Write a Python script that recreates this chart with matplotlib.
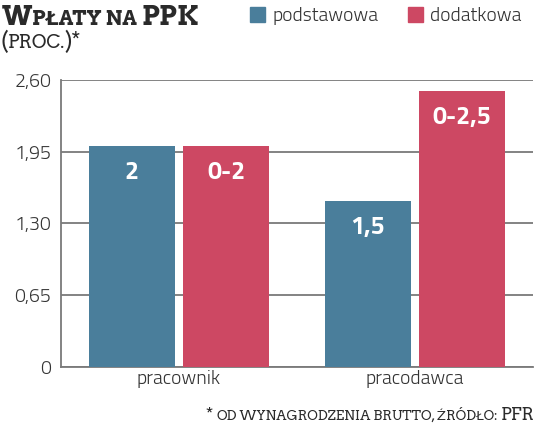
import matplotlib
matplotlib.use("Agg")
import matplotlib.pyplot as plt
from matplotlib import font_manager as fm
import numpy as np

categories = ["pracownik", "pracodawca"]
series_names = ["podstawowa", "dodatkowa"]
podstawowa = [2.0, 1.5]
dodatkowa = [2.0, 2.5]
labels_pod = ["2", "1,5"]
labels_dod = ["0-2", "0-2,5"]
yticks = [0, 0.65, 1.30, 1.95, 2.60]
yticklabels = ["0", "0,65", "1,30", "1,95", "2,60"]

BLUE = "#4a7e9b"
RED = "#cd4863"
GRID = "#7a7a7a"

names = {f.name for f in fm.fontManager.ttflist}
def pick(cands, default):
    for c in cands:
        if c in names:
            return [c, "DejaVu Sans"]
    return [default, "DejaVu Sans"]

sans = pick(["Titillium Web", "Exo 2", "Saira Semi Condensed", "Roboto Condensed"], "DejaVu Sans")
slab = pick(["Arvo", "Bitter", "Roboto Slab", "Zilla Slab"], "DejaVu Serif")

fig = plt.figure(figsize=(5.36, 4.28), dpi=100)
ax = fig.add_axes([61/536, 1-367/428, 472/536, 287/428])

x = np.arange(len(categories))
w = 0.364
off = 0.2
b1 = ax.bar(x - off, podstawowa, w, color=BLUE, zorder=3)
b2 = ax.bar(x + off, dodatkowa, w, color=RED, zorder=3)

ax.set_xlim(-0.5, 1.5)
ax.set_ylim(0, 2.6)
ax.set_yticks(yticks)
ax.set_yticklabels(yticklabels)
ax.set_xticks(x)
ax.set_xticklabels(categories)
ax.yaxis.grid(True, color=GRID, linewidth=1.3, zorder=0)
ax.set_axisbelow(True)
for s in ["top", "right"]:
    ax.spines[s].set_visible(False)
for s in ["left", "bottom"]:
    ax.spines[s].set_color(GRID)
    ax.spines[s].set_linewidth(1.3)
ax.tick_params(axis="both", length=0, colors="#333333", labelsize=14)
ax.tick_params(axis="y", pad=7)
ax.tick_params(axis="x", pad=2)
for t in ax.get_yticklabels() + ax.get_xticklabels():
    t.set_family(sans)
    t.set_fontweight(300)

for bars, labs in ((b1, labels_pod), (b2, labels_dod)):
    for rect, lab in zip(bars, labs):
        ax.annotate(lab, (rect.get_x() + rect.get_width()/2, rect.get_height()),
                    xytext=(0, -26), textcoords="offset pixels", ha="center", va="center",
                    color="white", fontsize=18, fontweight="bold",
                    family=sans, zorder=5)

# legend
for nm, col, xs in ((series_names[0], BLUE, 250), (series_names[1], RED, 408)):
    fig.patches.append(plt.Rectangle((xs/536, 1-22/428), 15/536, 15/428,
                                     transform=fig.transFigure, color=col))
    fig.text((xs+22)/536, 1-16/428, nm, ha="left", va="center", fontsize=14,
             color="#333333", family=sans, fontweight=300)

fig.canvas.draw()
renderer = fig.canvas.get_renderer()

def seq_text(x0, y0, pieces, ha="left", **kw):
    if ha == "right":
        xcur = x0
        for txt, sz in reversed(pieces):
            t = fig.text(xcur, y0, txt, ha="right", va="baseline", fontsize=sz,
                         transform=None, **kw)
            xcur = t.get_window_extent(renderer).x0
    else:
        xcur = x0
        for txt, sz in pieces:
            t = fig.text(xcur, y0, txt, ha="left", va="baseline", fontsize=sz,
                         transform=None, **kw)
            xcur = t.get_window_extent(renderer).x1

serif = dict(family=slab, color="#2a2a2a")
seq_text(2, 428-25, [("W", 19), ("PŁATY NA ", 14.5), ("PPK", 19)], fontweight="bold", **serif)
seq_text(0, 428-48, [("(", 15.5), ("PROC.", 13.5), (")*", 15.5)], **serif)
seq_text(535, 428-420, [("* ", 12.5), ("OD WYNAGRODZENIA BRUTTO, ŹRÓDŁO: ", 9.7), ("PFR", 12.5)], ha="right", **serif)

fig.savefig("out.png", dpi=100)
